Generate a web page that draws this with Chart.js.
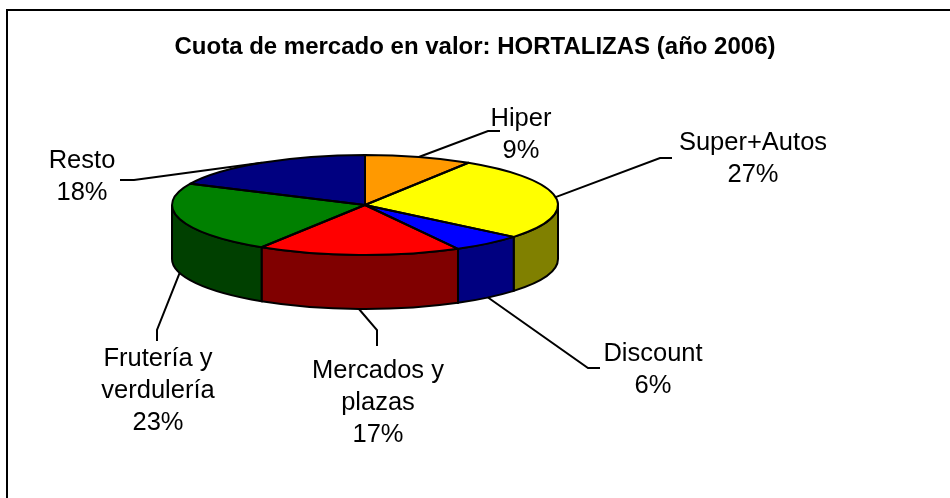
<!DOCTYPE html>
<html>
<head>
<meta charset="utf-8">
<script src="https://cdn.jsdelivr.net/npm/chart.js@4.4.1/dist/chart.umd.min.js"></script>
<style>
  html, body { margin: 0; padding: 0; background: #fff; }
  #wrap { width: 950px; height: 498px; }
</style>
</head>
<body>
<div id="wrap"><canvas id="myChart"></canvas></div>
<script>
const categories = ['Hiper', 'Super+Autos', 'Discount', 'Mercados y plazas', 'Frutería y verdulería', 'Resto'];
const labelLines = [['Hiper'], ['Super+Autos'], ['Discount'], ['Mercados y', 'plazas'], ['Frutería y', 'verdulería'], ['Resto']];
const shares = [9, 27, 6, 17, 23, 18];

const topColors = ['#ff9900', '#ffff00', '#0000ff', '#ff0000', '#008000', '#000080'];
const sideColors = ['#804c00', '#808000', '#000080', '#800000', '#004000', '#000040'];

// where the tilted pie sits on the page
const pie = { cx: 365, cy: 205, rx: 193, ry: 50, depth: 54 };

// label placement: elbow, line end, text centre (first line)
const labelPos = [
  { elbow: [488, 131], end: [500, 131], text: [521, 119] },
  { elbow: [660, 158], end: [672, 158], text: [753, 143] },
  { elbow: [588, 368], end: [600, 368], text: [653, 354] },
  { elbow: [377, 330], end: [377, 346], text: [378, 371] },
  { elbow: [157, 330], end: [157, 341], text: [158, 359] },
  { elbow: [134, 180], end: [120, 180], text: [82, 161] }
];
const FONT = '"Liberation Sans", Arial, sans-serif';

const ctx = document.getElementById('myChart').getContext('2d');

const pie3d = {
  id: 'pie3d',
  beforeDraw(chart) {
    const c = chart.ctx;
    c.save();
    c.fillStyle = '#fff';
    c.fillRect(0, 0, chart.width, chart.height);
    c.lineWidth = 2;
    c.strokeStyle = '#000';
    c.strokeRect(7, 10, 1000, 1000);
    c.restore();
  },
  beforeDatasetsDraw(chart) {
    const c = chart.ctx;
    const arcs = chart.getDatasetMeta(0).data;
    // side wall, only the front half shows
    arcs.forEach((a, i) => {
      const s = Math.max(a.startAngle, 0);
      const e = Math.min(a.endAngle, Math.PI);
      if (e <= s) return;
      c.beginPath();
      c.ellipse(pie.cx, pie.cy, pie.rx, pie.ry, 0, s, e);
      c.ellipse(pie.cx, pie.cy + pie.depth, pie.rx, pie.ry, 0, e, s, true);
      c.closePath();
      c.fillStyle = sideColors[i];
      c.fill();
      c.lineWidth = 2;
      c.strokeStyle = '#000';
      c.stroke();
    });
    const R = arcs[0].outerRadius;
    c.save();
    c.translate(pie.cx, pie.cy);
    c.scale(pie.rx / R, pie.ry / R);
    c.translate(-arcs[0].x, -arcs[0].y);
  },
  afterDatasetsDraw(chart) {
    const c = chart.ctx;
    c.restore();
    const arcs = chart.getDatasetMeta(0).data;
    c.save();
    c.lineWidth = 2;
    c.strokeStyle = '#000';
    c.lineJoin = 'round';
    arcs.forEach(a => {
      c.beginPath();
      c.moveTo(pie.cx, pie.cy);
      c.ellipse(pie.cx, pie.cy, pie.rx, pie.ry, 0, a.startAngle, a.endAngle);
      c.closePath();
      c.stroke();
    });
    c.restore();
  },
  afterDraw(chart) {
    const c = chart.ctx;
    const arcs = chart.getDatasetMeta(0).data;
    c.save();
    c.lineWidth = 2;
    c.strokeStyle = '#000';
    c.fillStyle = '#000';
    c.font = '25.5px ' + FONT;
    c.textAlign = 'center';
    c.textBaseline = 'middle';
    arcs.forEach((a, i) => {
      const mid = (a.startAngle + a.endAngle) / 2;
      const ax = pie.cx + pie.rx * Math.cos(mid);
      const ay = pie.cy + pie.ry * Math.sin(mid) + (Math.sin(mid) > 0 ? pie.depth : 0);
      const p = labelPos[i];
      c.beginPath();
      c.moveTo(ax, ay);
      c.lineTo(p.elbow[0], p.elbow[1]);
      c.lineTo(p.end[0], p.end[1]);
      c.stroke();
      const lines = labelLines[i].concat([shares[i] + '%']);
      lines.forEach((t, j) => c.fillText(t, p.text[0], p.text[1] + j * 32));
    });
    c.restore();
  }
};

const data = {
  labels: categories,
  datasets: [{
    data: shares,
    backgroundColor: topColors,
    borderWidth: 0,
    hoverOffset: 0
  }]
};

const myChart = new Chart(ctx, {
  type: 'pie',
  data: data,
  options: {
    responsive: true,
    maintainAspectRatio: false,
    animation: false,
    events: [],
    plugins: {
      legend: { display: false },
      tooltip: { enabled: false },
      title: {
        display: true,
        text: 'Cuota de mercado en valor: HORTALIZAS (año 2006)',
        color: '#000',
        font: { family: FONT, size: 24, weight: 'bold' },
        padding: { top: 33, bottom: 10 }
      }
    }
  },
  plugins: [pie3d]
});
</script>
</body>
</html>
